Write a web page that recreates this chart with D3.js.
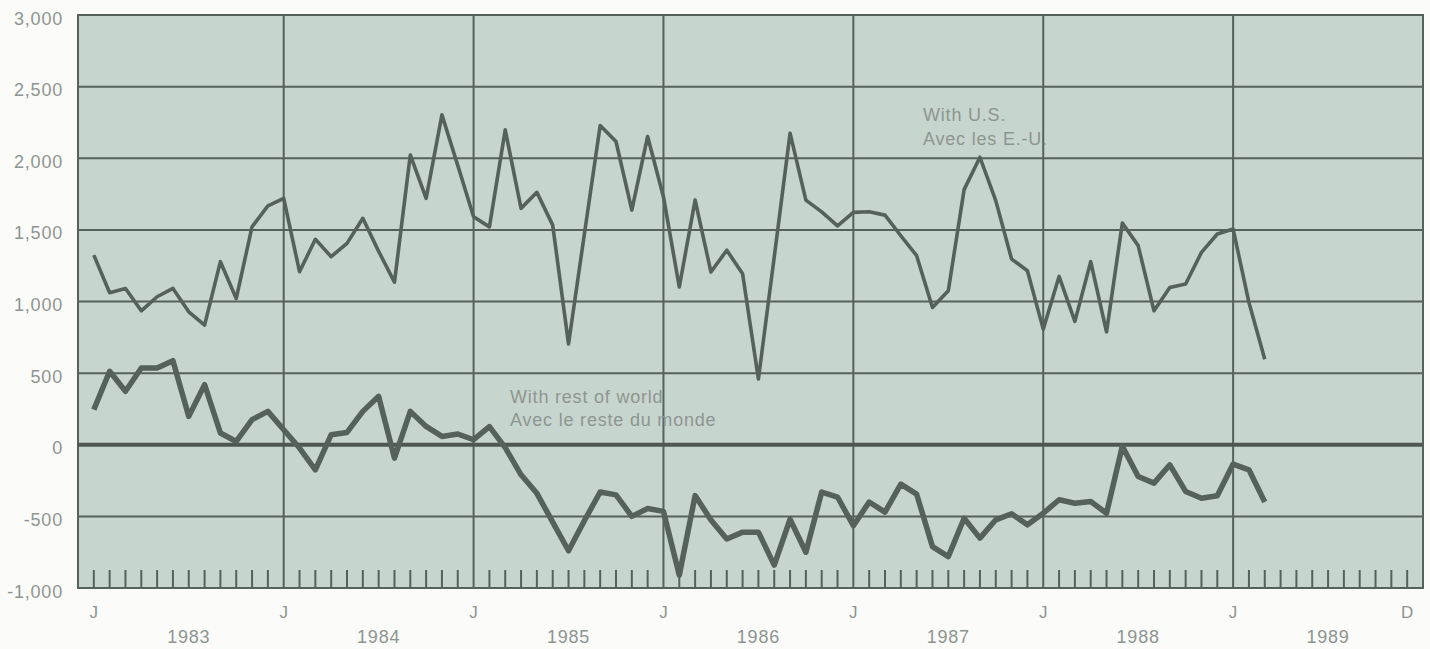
<!DOCTYPE html>
<html>
<head>
<meta charset="utf-8">
<script src="https://cdn.jsdelivr.net/npm/d3@7"></script>
<style>
  html, body { margin: 0; padding: 0; background: #fbfbf9; }
  svg { display: block; }
  text { font-family: "Liberation Sans", Arial, sans-serif; }
</style>
</head>
<body>
<svg id="chart" width="1430" height="649"></svg>
<script>
// ---- Data (monthly, Jan 1983 onward; millions) ----
const usBalance = [1324,1061,1091,935,1033,1091,928,835,1278,1021,
  1522,1667,1720,1208,1434,1313,1406,1581,1350,1135,
  2023,1720,2303,1950,1592,1521,2198,1650,1762,1533,
  704,1470,2229,2117,1638,2152,1730,1101,1708,1206,
  1358,1194,459,1310,2175,1708,1626,1528,1622,1626,
  1603,1459,1320,958,1075,1781,2007,1704,1296,1215,
  807,1175,861,1278,788,1548,1390,935,1098,1122,
  1343,1471,1506,993,597];
const rowBalance = [245,513,373,536,536,587,198,419,82,23,
  175,233,105,-23,-175,70,86,233,338,-93,
  233,128,58,75,35,127,-20,-210,-339,-540,
  -740,-530,-330,-350,-500,-445,-465,-910,-355,-525,
  -658,-610,-610,-840,-520,-750,-330,-365,-565,-400,
  -470,-275,-345,-711,-781,-513,-652,-524,-482,-559,
  -478,-384,-408,-396,-478,-10,-221,-268,-140,-326,
  -373,-356,-135,-175,-400];
const yTicks = [-1000,-500,0,500,1000,1500,2000,2500,3000];
const years = ["1983","1984","1985","1986","1987","1988","1989"];
const monthLabels = [{m:0,t:"J"},{m:12,t:"J"},{m:24,t:"J"},{m:36,t:"J"},{m:48,t:"J"},{m:60,t:"J"},{m:72,t:"J"},{m:83,t:"D"}];
const totalMonths = 84;
const labelUS = ["With U.S.", "Avec les E.-U."];
const labelROW = ["With rest of world", "Avec le reste du monde"];

(function () {
// ---- Layout ----
const svg = d3.select("#chart");
const pLeft = 78, pRight = 1423, pTop = 15, pBottom = 588;
const x = d3.scaleLinear().domain([-1, totalMonths]).range([pLeft, pRight]);
const y = d3.scaleLinear().domain([-1000, 3000]).range([pBottom, pTop]);

const lineCol = "#55625b";
const textCol = "#8e9591";
const fmt = v => d3.format(",")(v).replace("\u2212", "-");

// background
svg.append("rect").attr("x", pLeft).attr("y", pTop)
  .attr("width", pRight - pLeft).attr("height", pBottom - pTop)
  .attr("fill", "#c6d5cd");

// horizontal gridlines
svg.append("g").selectAll("line").data(yTicks.filter(v => v !== 0)).join("line")
  .attr("x1", pLeft).attr("x2", pRight)
  .attr("y1", d => y(d)).attr("y2", d => y(d))
  .attr("stroke", lineCol).attr("stroke-width", 2);

// vertical year gridlines
const yearStarts = d3.range(12, totalMonths, 12);
svg.append("g").selectAll("line").data(yearStarts).join("line")
  .attr("x1", d => x(d)).attr("x2", d => x(d))
  .attr("y1", pTop).attr("y2", pBottom)
  .attr("stroke", lineCol).attr("stroke-width", 2);

// month ticks
svg.append("g").selectAll("line").data(d3.range(0, totalMonths).filter(m => m % 12 !== 0 || m === 0)).join("line")
  .attr("x1", d => x(d)).attr("x2", d => x(d))
  .attr("y1", pBottom).attr("y2", pBottom - 18)
  .attr("stroke", lineCol).attr("stroke-width", 2);

// frame
svg.append("rect").attr("x", pLeft).attr("y", pTop)
  .attr("width", pRight - pLeft).attr("height", pBottom - pTop)
  .attr("fill", "none").attr("stroke", lineCol).attr("stroke-width", 2);

// zero line
svg.append("line").attr("x1", pLeft).attr("x2", pRight)
  .attr("y1", y(0)).attr("y2", y(0))
  .attr("stroke", "#4d5852").attr("stroke-width", 4);

// series lines
const line = d3.line().x((d, i) => x(i)).y(d => y(d)).curve(d3.curveLinear);
svg.append("path").datum(usBalance).attr("d", line)
  .attr("fill", "none").attr("stroke", lineCol).attr("stroke-width", 3.6)
  .attr("stroke-linejoin", "round");
svg.append("path").datum(rowBalance).attr("d", line)
  .attr("fill", "none").attr("stroke", lineCol).attr("stroke-width", 5.5)
  .attr("stroke-linejoin", "round");

// y labels
svg.append("g").selectAll("text").data(yTicks).join("text")
  .attr("x", 63).attr("y", d => y(d) + 9.5)
  .attr("text-anchor", "end").attr("fill", textCol)
  .attr("font-size", 18).attr("letter-spacing", 0.8)
  .text(d => fmt(d));

// x month letters
svg.append("g").selectAll("text").data(monthLabels).join("text")
  .attr("x", d => x(d.m)).attr("y", 618)
  .attr("text-anchor", "middle").attr("fill", textCol)
  .attr("font-size", 17)
  .text(d => d.t);

// year labels
svg.append("g").selectAll("text").data(years).join("text")
  .attr("x", (d, i) => x(i * 12 + 6)).attr("y", 643)
  .attr("text-anchor", "middle").attr("fill", textCol)
  .attr("font-size", 18).attr("letter-spacing", 0.8)
  .text(d => d);

// annotations
svg.append("g").selectAll("text").data(labelUS).join("text")
  .attr("x", 923).attr("y", (d, i) => 121 + i * 23.5)
  .attr("fill", textCol).attr("font-size", 18).attr("letter-spacing", 0.8)
  .text(d => d);
svg.append("g").selectAll("text").data(labelROW).join("text")
  .attr("x", 510).attr("y", (d, i) => 403 + i * 23)
  .attr("fill", textCol).attr("font-size", 18).attr("letter-spacing", 0.8)
  .text(d => d);
})();
</script>
</body>
</html>
